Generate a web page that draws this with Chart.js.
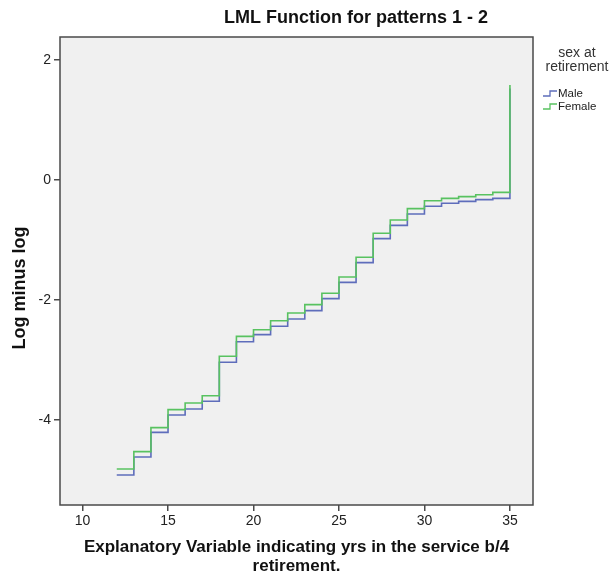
<!DOCTYPE html>
<html>
<head>
<meta charset="utf-8">
<script src="https://cdn.jsdelivr.net/npm/chart.js@4.4.1/dist/chart.umd.min.js"></script>
<style>
  body { margin: 0; background: #fff; }
</style>
</head>
<body>
<canvas id="lml" width="609" height="578"></canvas>
<script>
// years in service where the step changes
const years = [12, 13, 14, 15, 16, 17, 18, 19, 20, 21, 22, 23, 24, 25, 26, 27, 28, 29, 30, 31, 32, 33, 34, 35];

// log minus log values (level starting at each year)
const male = [-4.92, -4.62, -4.21, -3.92, -3.82, -3.69, -3.04, -2.70, -2.58, -2.44, -2.32, -2.18,
              -1.98, -1.71, -1.38, -0.98, -0.76, -0.57, -0.44, -0.39, -0.36, -0.33, -0.31, 1.52];
const female = [-4.82, -4.53, -4.13, -3.83, -3.72, -3.60, -2.94, -2.61, -2.50, -2.35, -2.22, -2.08,
                -1.89, -1.62, -1.29, -0.89, -0.67, -0.48, -0.35, -0.31, -0.28, -0.25, -0.21, 1.58];

const seriesNames = ['Male', 'Female'];
const xTicks = [10, 15, 20, 25, 30, 35];
const yTicks = [-4, -2, 0, 2];

const chartTitle = 'LML Function for patterns 1 - 2';
const legendTitle = ['sex at', 'retirement'];
const xTitle = ['Explanatory Variable indicating yrs in the service b/4', 'retirement.'];
const yTitle = 'Log minus log';

const colors = ['#5e6dbb', '#58c260'];

function toPoints(vals) {
  return years.map((yr, i) => ({ x: yr, y: vals[i] }));
}

// grey plot background
const plotBg = {
  id: 'plotBg',
  beforeDraw(chart) {
    const { ctx, chartArea: a } = chart;
    ctx.save();
    ctx.fillStyle = '#f0f0f0';
    ctx.fillRect(a.left, a.top, a.right - a.left, a.bottom - a.top);
    ctx.restore();
  }
};

// frame around plot + titles + legend
const extras = {
  id: 'extras',
  afterDraw(chart) {
    const { ctx, chartArea: a } = chart;
    ctx.save();
    ctx.strokeStyle = '#4a4a4a';
    ctx.lineWidth = 1.5;
    ctx.strokeRect(a.left, a.top, a.right - a.left, a.bottom - a.top);

    ctx.fillStyle = '#111';
    ctx.textAlign = 'center';
    ctx.textBaseline = 'middle';
    ctx.font = 'bold 18px "Liberation Sans", Arial, sans-serif';
    ctx.fillText(chartTitle, 356, 18);

    // y axis title, sits a bit below the middle of the axis like the original
    ctx.save();
    ctx.translate(20, 288);
    ctx.rotate(-Math.PI / 2);
    ctx.font = 'bold 18px "Liberation Sans", Arial, sans-serif';
    ctx.fillText(yTitle, 0, 0);
    ctx.restore();

    ctx.fillStyle = '#333';
    ctx.font = '14px "Liberation Sans", Arial, sans-serif';
    ctx.fillText(legendTitle[0], 577, 53);
    ctx.fillText(legendTitle[1], 577, 67);

    ctx.textAlign = 'left';
    ctx.font = '11.5px "Liberation Sans", Arial, sans-serif';
    seriesNames.forEach((name, i) => {
      const y = 94 + i * 13;
      ctx.strokeStyle = colors[i];
      ctx.lineWidth = 1.3;
      ctx.beginPath();
      ctx.moveTo(543, y + 2);
      ctx.lineTo(550, y + 2);
      ctx.lineTo(550, y - 3);
      ctx.lineTo(557, y - 3);
      ctx.stroke();
      ctx.fillStyle = '#222';
      ctx.fillText(name, 558, y);
    });
    ctx.restore();
  }
};

const ctx = document.getElementById('lml').getContext('2d');
const lmlChart = new Chart(ctx, {
  type: 'line',
  data: {
    datasets: [
      { label: seriesNames[0], data: toPoints(male), borderColor: colors[0], order: 1 },
      { label: seriesNames[1], data: toPoints(female), borderColor: colors[1], order: 0 }
    ]
  },
  options: {
    responsive: false,
    animation: false,
    devicePixelRatio: 1,
    layout: { padding: { top: 37, right: 76, bottom: 0, left: 0 } },
    elements: {
      line: { stepped: true, borderWidth: 1.6, fill: false, tension: 0 },
      point: { radius: 0 }
    },
    plugins: {
      legend: { display: false },
      tooltip: { enabled: false }
    },
    scales: {
      x: {
        type: 'linear',
        min: 8.68,
        max: 36.35,
        afterBuildTicks: s => { s.ticks = xTicks.map(v => ({ value: v })); },
        afterFit: s => { s.height = 73; },
        border: { display: false },
        grid: { drawOnChartArea: false, tickLength: 6, color: '#4a4a4a', lineWidth: 1.5 },
        ticks: { font: { size: 14, family: '"Liberation Sans", Arial' }, color: '#222', padding: 2, maxRotation: 0, autoSkip: false },
        title: {
          display: true,
          text: xTitle,
          color: '#111',
          font: { size: 17, weight: 'bold', family: '"Liberation Sans", Arial', lineHeight: 1.08 },
          padding: { top: 0, bottom: 3 }
        }
      },
      y: {
        min: -5.42,
        max: 2.38,
        afterBuildTicks: s => { s.ticks = yTicks.map(v => ({ value: v })); },
        afterFit: s => { s.width = 60; },
        border: { display: false },
        grid: { drawOnChartArea: false, tickLength: 6, color: '#4a4a4a', lineWidth: 1.5 },
        ticks: { font: { size: 14, family: '"Liberation Sans", Arial' }, color: '#222', padding: 3 },
        title: { display: false }
      }
    }
  },
  plugins: [plotBg, extras]
});
</script>
</body>
</html>
